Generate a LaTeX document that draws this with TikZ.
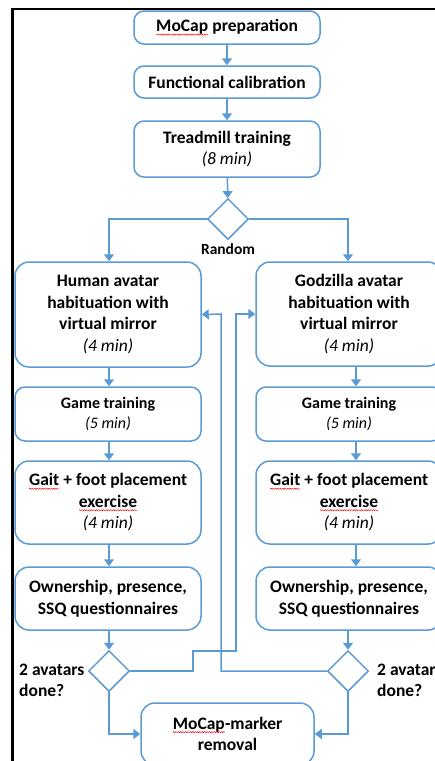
\documentclass[tikz,border=0pt]{standalone}
\usepackage{fontspec}
\setmainfont{Carlito}
\usetikzlibrary{arrows.meta,shapes.geometric,decorations.pathmorphing}

\definecolor{flowblue}{RGB}{91,155,213}

\tikzset{
  stepbox/.style={draw=flowblue, line width=1.5pt, rounded corners=10pt, align=center,
    inner sep=0pt, minimum width=186pt, font=\fontsize{17.5}{21.5}\selectfont\bfseries},
  decide/.style={draw=flowblue, line width=1.5pt, diamond, inner sep=0pt,
    minimum width=41pt, minimum height=41pt},
  link/.style={draw=flowblue, line width=1.5pt, -{Triangle[width=10pt,length=7pt]}},
  note/.style={font=\fontsize{17.5}{21.5}\selectfont\bfseries, align=left, inner sep=0pt},
  spellword/.style={draw=none, shape=rectangle, inner sep=0pt, outer sep=0pt,
    minimum width=0pt, minimum height=0pt, sharp corners},
  spellmark/.style={draw=red, line width=0.45pt, sharp corners, decorate,
    decoration={snake, amplitude=0.6pt, segment length=2.4pt}},
}

% red wavy underline
\newcommand{\spell}[1]{\tikz[baseline=(w.base)]{\node[spellword] (w) {#1};
  \path[spellmark] ([yshift=-2.8pt]w.base west) -- ([yshift=-2.8pt]w.base east);}}
\newcommand{\dur}[1]{{\mdseries\itshape #1}}

\begin{document}
\begin{tikzpicture}[x=1pt,y=-1pt]
\useasboundingbox (0,0) rectangle (435,761);
% frame
\draw[line width=2.6pt] (12.3,775) -- (12.3,9) -- (445,9);

% common steps
\node[stepbox, minimum height=33pt] (prep) at (227,27.5) {\spell{MoCap} preparation};
\node[stepbox, minimum height=32pt] (calib) at (227,82) {Functional calibration};
\node[stepbox, minimum height=56pt] (tread) at (227,149) {Treadmill training\\\dur{(8 min)}};
\node[decide] (rand) at (228,219) {};
\node[note, font=\fontsize{15.5}{19}\selectfont\bfseries] (randlbl) at (228,249) {Random};

% human avatar branch
\node[stepbox, minimum height=105pt, rounded corners=14pt] (human) at (108,314.5)
  {Human avatar\\habituation with\\virtual mirror\\\dur{(4 min)}};
\node[stepbox, minimum height=54pt, font=\fontsize{16}{20}\selectfont\bfseries] (gameL)
  at (108,414) {Game training\\\dur{(5 min)}};
\node[stepbox, minimum height=83pt, rounded corners=14pt] (gaitL) at (108,502.5)
  {\spell{Gait} + foot placement\\\spell{exercise}\\\dur{(4 min)}};
\node[stepbox, minimum height=63pt, rounded corners=14pt] (ownL) at (108,598.5)
  {Ownership, presence,\\SSQ questionnaires};
\node[decide] (doneL) at (109,671) {};
\node[note, anchor=west] (doneLlbl) at (19,680.5) {2 avatars\\done?};

% godzilla avatar branch
\node[stepbox, minimum height=104pt, rounded corners=14pt] (godz) at (349,314)
  {Godzilla avatar\\habituation with\\virtual mirror\\\dur{(4 min)}};
\node[stepbox, minimum height=54pt, font=\fontsize{16}{20}\selectfont\bfseries] (gameR)
  at (349,414) {Game training\\\dur{(5 min)}};
\node[stepbox, minimum height=83pt, rounded corners=14pt] (gaitR) at (349,502.5)
  {\spell{Gait} + foot placement\\\spell{exercise}\\\dur{(4 min)}};
\node[stepbox, minimum height=63pt, rounded corners=14pt] (ownR) at (349,598.5)
  {Ownership, presence,\\SSQ questionnaires};
\node[decide] (doneR) at (348,671) {};
\node[note, anchor=west] (doneRlbl) at (377,680.5) {2 avatars\\done?};

\node[stepbox, minimum width=173pt, minimum height=62pt, rounded corners=14pt] (removal)
  at (227.5,734) {\spell{MoCap}-marker\\removal};

% arrows
\draw[link] (prep) -- (calib);
\draw[link] (calib) -- (tread);
\draw[link] (tread) -- (rand);
\draw[link] (rand.west) -| (human.north -| doneL);
\draw[link] (rand.east) -| (godz.north -| doneR);
\foreach \a/\b in {human/gameL, gameL/gaitL, gaitL/ownL}
  \draw[link] (\a.south -| doneL) -- (\b.north -| doneL);
\foreach \a/\b in {godz/gameR, gameR/gaitR, gaitR/ownR}
  \draw[link] ([xshift=7pt]\a.south) -- ([xshift=7pt]\b.north);
\draw[link] (ownL.south -| doneL) -- (doneL);
\draw[link] (ownR.south -| doneR) -- (doneR);
\draw[link] (doneL.east) -| (193,651) -| (236,314) -- (godz.west);
\draw[link] (doneR.west) -| (221,314) -- (human.east);
\draw[link] (doneL.south) |- (removal.west);
\draw[link] (doneR.south) |- (removal.east);
\end{tikzpicture}
\end{document}
